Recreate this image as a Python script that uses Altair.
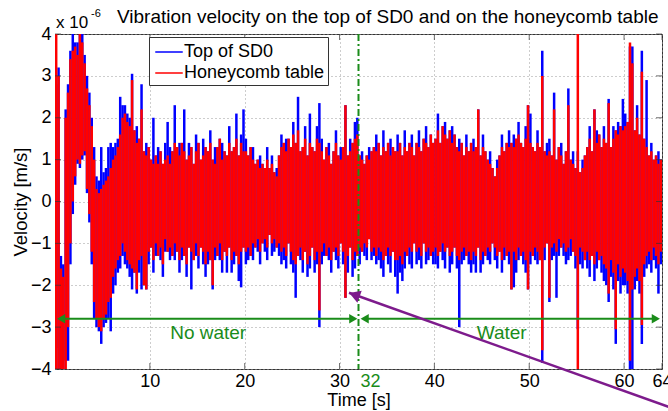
import altair as alt
import pandas as pd

STEP = 0.25  # seconds per sample bin

red_hi = [
 4.0, 3.0, -1.6, -1.8, 2.0, 2.6, 3.4, 3.6, 3.7, 3.5, 4.0, 3.8, 3.3, 2.7, 2.3, 1.8,
 1.0, 0.3, 0.2, 0.3, 0.4, 0.5, 0.6, 0.8, 1.0, 1.1, 1.3, 1.6, 2.0, 2.1, 1.9, 1.8,
 2.9, 1.7, 1.4, 1.5, 2.2, 1.2, 1.1, 1.3, 1.0, 0.9, 1.1, 0.9, 1.2, 0.9, 1.0, 1.1,
 0.9, 1.2, 1.4, 1.3, 1.1, 1.4, 1.2, 1.0, 1.1, 1.3, 0.9, 1.2, 1.4, 1.0, 1.1, 1.3,
 1.2, 1.4, 1.0, 0.9, 1.3, 1.5, 1.0, 1.2, 1.1, 1.4, 1.2, 1.3, 1.5, 1.1, 1.4, 1.2,
 1.2, 1.1, 1.3, 1.0, 0.9, 1.0, 0.8, 0.9, 0.8, 1.0, 0.8, 0.9, 0.7, 0.6, 1.1, 1.3,
 1.4, 1.2, 1.5, 1.3, 1.6, 1.4, 1.7, 1.2, 1.3, 1.5, 1.1, 1.4, 1.3, 1.2, 1.5, 1.4,
 1.2, 1.0, 1.3, 1.1, 0.9, 1.2, 1.4, 1.1, 1.0, 1.3, 2.3, 1.1, 1.2, 1.4, 1.5, 1.6,
 1.1, 1.0, 0.9, 1.1, 1.0, 1.2, 1.3, 1.2, 1.4, 1.1, 1.3, 1.2, 1.4, 1.1, 1.3, 1.2,
 1.2, 1.4, 1.1, 1.3, 1.2, 1.4, 1.3, 1.1, 1.4, 1.3, 1.2, 1.5, 1.4, 1.3, 1.6, 1.4,
 1.5, 1.7, 1.4, 1.8, 1.6, 1.5, 1.7, 1.4, 1.6, 1.3, 1.2, 1.4, 1.1, 1.3, 1.2, 1.4,
 1.2, 1.3, 2.2, 1.1, 1.3, 1.2, 1.0, 0.9, 0.8, 0.6, 0.8, 1.1, 1.3, 1.2, 1.4, 1.3,
 1.4, 1.3, 1.5, 1.6, 1.4, 1.3, 1.5, 2.3, 1.4, 1.3, 1.2, 1.4, 1.3, 3.0, 1.2, 1.1,
 1.2, 1.1, 2.2, 1.0, 1.3, 1.1, 0.9, 1.2, 2.3, 1.0, 0.9, 0.8, 4.0, 0.7, 0.8, 1.1,
 1.3, 1.5, 1.2, 2.2, 1.4, 1.6, 1.3, 1.5, 1.4, 2.35, 1.3, 1.5, 1.7, 1.6, 1.8, 1.7,
 1.8, 1.9, 3.8, 3.3, 1.7, 2.0, 1.6, 3.1, 1.5, 1.3, 1.1, 1.2, 1.0, 1.1, 0.9, 1.0,
]

red_lo = [
 -4.0, -4.0, -4.0, -4.0, -4.0, -3.0, -1.0, 0.0, 0.6, 1.0, 0.9, 1.1, 1.2, 0.3, -0.3, -1.2,
 -2.4, -2.8, -3.0, -3.1, -2.8, -2.7, -2.4, -2.3, -1.8, -1.6, -1.4, -1.3, -1.0, -1.2, -1.4, -1.5,
 -1.6, -1.7, -2.1, -1.4, -1.3, -2.0, -2.1, -1.2, -1.1, -1.4, -1.0, -1.3, -1.1, -1.5, -0.9, -1.2,
 -1.1, -1.3, -1.0, -1.2, -1.4, -1.1, -1.3, -1.5, -1.1, -1.2, -1.4, -1.0, -1.3, -1.1, -1.2, -1.5,
 -1.2, -1.4, -2.0, -1.1, -1.3, -1.0, -1.4, -1.2, -1.3, -1.1, -1.4, -1.2, -1.3, -1.5, -1.2, -1.1,
 -1.2, -1.1, -1.3, -1.0, -1.1, -0.9, -1.2, -1.0, -0.9, -1.1, -0.8, -1.0, -0.9, -1.1, -1.0, -1.2,
 -1.1, -1.3, -1.0, -1.2, -1.4, -1.5, -1.3, -1.1, -1.4, -1.2, -1.5, -1.3, -1.1, -1.4, -1.2, -2.6,
 -1.2, -1.0, -1.3, -1.1, -1.4, -1.2, -1.1, -1.3, -1.0, -1.2, -2.3, -1.3, -1.1, -1.4, -1.2, -1.3,
 -1.1, -1.2, -1.0, -1.1, -0.9, -1.2, -1.1, -1.3, -1.1, -1.2, -1.4, -1.3, -1.1, -1.3, -1.2, -1.4,
 -1.4, -1.3, -1.5, -1.2, -1.3, -1.1, -1.2, -1.0, -1.2, -1.1, -1.3, -1.0, -1.2, -1.1, -1.3, -1.2,
 -1.1, -1.3, -1.2, -1.0, -1.2, -1.1, -1.3, -1.2, -1.1, -1.3, -1.4, -1.2, -1.1, -1.3, -1.2, -1.4,
 -1.2, -1.3, -1.1, -1.4, -1.2, -1.3, -1.1, -1.2, -1.0, -1.1, -1.3, -1.2, -1.4, -1.1, -1.3, -1.2,
 -2.1, -1.2, -1.4, -1.1, -1.3, -1.2, -1.4, -2.1, -1.2, -1.3, -1.1, -1.2, -1.4, -3.55, -1.1, -1.0,
 -2.3, -1.1, -1.0, -1.2, -0.9, -1.1, -1.0, -1.2, -1.1, -0.9, -1.2, -1.3, -4.0, -1.1, -1.2, -1.4,
 -1.2, -1.4, -1.3, -1.5, -1.2, -1.4, -1.3, -1.5, -1.6, -2.2, -1.4, -1.7, -3.05, -1.5, -1.8, -1.6,
 -1.7, -1.9, -3.8, -2.1, -1.8, -1.6, -1.9, -2.95, -1.5, -1.3, -1.2, -1.4, -1.1, -1.3, -1.5, -1.2,
]

blue_hi = [
 2.8, 3.2, -1.3, -1.5, 2.2, 2.8, 3.6, 4.0, 3.8, 3.8, 4.0, 4.0, 3.5, 3.0, 2.6, 2.0,
 1.3, 0.6, 0.5, 1.3, 0.7, 0.8, 1.3, 1.4, 1.3, 1.4, 1.5, 2.5, 2.3, 2.3, 2.1, 2.0,
 3.05, 1.7, 1.8, 1.5, 2.8, 1.2, 1.4, 1.3, 1.0, 2.0, 1.1, 1.3, 1.2, 0.9, 1.4, 1.9,
 1.3, 1.2, 2.3, 1.3, 1.4, 1.4, 2.2, 1.0, 1.4, 1.3, 0.9, 1.6, 1.4, 1.0, 1.5, 1.3,
 1.2, 1.7, 1.0, 1.3, 1.3, 1.5, 1.4, 1.2, 1.1, 1.8, 1.2, 1.3, 2.1, 1.1, 1.6, 2.2,
 1.5, 1.1, 1.3, 1.3, 0.9, 1.0, 1.1, 0.9, 0.8, 1.3, 0.8, 1.1, 0.7, 0.8, 1.1, 1.6,
 1.4, 1.5, 1.5, 1.3, 1.9, 1.4, 2.5, 1.2, 1.3, 1.8, 1.1, 2.1, 1.3, 1.2, 1.8, 2.35,
 1.5, 1.0, 1.3, 1.4, 0.9, 1.2, 1.7, 1.1, 1.3, 1.3, 2.3, 1.1, 1.5, 1.4, 1.9, 2.0,
 1.1, 1.2, 0.9, 1.1, 1.3, 1.2, 1.3, 1.6, 1.4, 1.1, 1.7, 1.2, 1.4, 1.5, 1.3, 1.2,
 1.6, 1.4, 1.1, 1.7, 1.2, 1.4, 1.6, 1.1, 1.4, 1.7, 1.2, 1.5, 1.8, 1.3, 1.6, 1.4,
 1.5, 2.1, 1.4, 1.8, 1.9, 1.5, 1.7, 1.8, 1.6, 1.3, 1.5, 1.4, 1.1, 1.6, 1.2, 1.4,
 1.5, 1.3, 2.2, 1.1, 1.6, 1.2, 1.0, 1.2, 0.8, 0.6, 1.0, 1.1, 1.6, 1.2, 1.4, 1.7,
 1.4, 1.6, 1.5, 1.9, 1.4, 1.3, 1.8, 2.3, 2.1, 1.3, 1.2, 1.7, 1.3, 3.6, 1.2, 1.4,
 1.5, 1.1, 2.6, 1.0, 1.3, 1.4, 0.9, 1.2, 2.7, 1.0, 1.2, 0.8, 1.2, 0.7, 1.0, 1.1,
 1.3, 1.8, 1.2, 2.2, 1.7, 1.6, 1.3, 1.8, 1.4, 2.45, 1.3, 1.8, 1.7, 1.9, 1.8, 2.45,
 2.1, 1.9, 3.7, 3.7, 1.7, 2.3, 1.6, 3.6, 1.5, 2.9, 1.1, 1.4, 1.0, 1.1, 1.2, 1.0,
]

blue_lo = [
 -3.5, -4.0, -4.0, -4.0, -3.8, -3.8, -1.5, -0.3, 0.4, 0.9, 0.8, 1.0, 1.1, 0.2, -0.5, -1.5,
 -2.8, -3.0, -3.1, -3.4, -3.0, -2.9, -2.8, -3.1, -2.2, -2.0, -1.7, -1.6, -1.3, -1.5, -1.6, -1.8,
 -2.1, -1.7, -2.2, -1.7, -2.1, -2.0, -2.1, -1.5, -1.1, -1.7, -1.3, -1.3, -1.4, -1.8, -1.2, -1.2,
 -1.4, -1.3, -1.4, -1.2, -1.7, -1.4, -1.3, -1.8, -1.1, -2.1, -1.4, -1.3, -1.6, -1.1, -1.5, -1.8,
 -1.5, -1.4, -2.1, -1.4, -1.3, -1.4, -1.7, -1.2, -1.7, -1.1, -1.7, -1.5, -1.3, -1.9, -2.05, -1.1,
 -1.5, -1.4, -1.3, -1.4, -1.1, -1.2, -1.5, -1.0, -1.2, -1.4, -0.8, -1.3, -1.2, -1.1, -1.3, -1.5,
 -1.4, -1.6, -1.0, -1.5, -1.7, -2.3, -1.3, -1.4, -1.7, -1.2, -1.8, -1.6, -1.1, -1.7, -1.5, -3.0,
 -1.5, -1.3, -1.3, -1.4, -1.7, -1.2, -1.4, -1.6, -1.0, -1.5, -2.3, -1.7, -1.1, -1.8, -1.6, -1.3,
 -1.5, -1.2, -1.3, -1.4, -0.9, -1.4, -1.3, -1.5, -1.4, -1.6, -1.8, -1.3, -1.5, -1.7, -1.2, -1.8,
 -2.2, -1.7, -1.9, -1.6, -1.3, -1.5, -1.6, -1.0, -1.5, -1.4, -1.6, -1.0, -1.5, -1.4, -1.3, -1.5,
 -1.5, -1.6, -1.2, -1.4, -1.6, -1.1, -1.7, -1.5, -1.1, -1.6, -3.0, -1.5, -1.4, -1.3, -1.5, -1.7,
 -1.5, -1.7, -1.1, -1.7, -1.5, -1.3, -1.4, -1.5, -1.0, -1.4, -1.6, -1.2, -1.7, -1.4, -1.3, -1.5,
 -2.1, -2.05, -1.7, -1.4, -1.3, -1.5, -1.7, -2.1, -1.5, -1.3, -1.4, -1.5, -1.4, -3.85, -1.4, -1.0,
 -2.4, -1.4, -1.3, -2.3, -1.3, -1.1, -1.3, -1.5, -1.4, -1.3, -1.2, -1.6, -3.05, -1.5, -1.6, -1.4,
 -1.6, -1.8, -1.3, -1.9, -1.6, -1.4, -1.7, -1.9, -2.0, -2.4, -1.8, -2.1, -3.4, -1.9, -2.2, -2.0,
 -2.0, -2.2, -4.0, -4.0, -2.1, -1.9, -2.2, -3.4, -1.8, -1.6, -1.5, -1.7, -1.4, -1.6, -2.2, -1.5,
]

series_names = ["Top of SD0", "Honeycomb table"]
series_colors = ["#0000ff", "#ff0000"]

x_ticks = [10, 20, 30, 40, 50, 60, 64]
y_ticks = [-4, -3, -2, -1, 0, 1, 2, 3, 4]
x_range = [0, 64]
y_range = [-4, 4]

split_time = [32]
arrow_y = -2.8
arrow_segments = {"x1": [0.6, 32.6], "x2": [31.5, 63.4]}
arrow_heads = {"x": [0.65, 31.45, 32.65, 63.35],
               "shape": ["triangle-left", "triangle-right", "triangle-left", "triangle-right"]}
region_labels = {"x": [16.15, 47.1], "y": [-3.13, -3.13], "text": ["No water", "Water"]}
purple_line = {"x": [66.0, 31.0], "y": [-5.01, -2.18]}
purple_head = {"x": [31.75], "y": [-2.245]}

t = [STEP / 2 + STEP * i for i in range(len(red_hi))]
df_blue = pd.DataFrame({"t": t, "lo": blue_lo, "hi": blue_hi, "series": series_names[0]})
df_red = pd.DataFrame({"t": t, "lo": red_lo, "hi": red_hi, "series": series_names[1]})

FONT = "Liberation Sans"
GREEN = "#1a8c1a"
PURPLE = "#7d1b8c"
AXC = "#333333"

xscale = alt.Scale(domain=x_range, nice=False, zero=False)
yscale = alt.Scale(domain=y_range, nice=False, zero=False)

xaxis = alt.Axis(values=x_ticks, title="Time [s]", labelFlush=False, labelOverlap=False,
                 ticks=False, domain=False, labelPadding=3, titlePadding=1,
                 titleFontSize=18)
yaxis = alt.Axis(values=y_ticks, title="Velocity [m/s]", ticks=False, domain=False,
                 labelPadding=4, titlePadding=0)

color = alt.Color("series:N",
                  scale=alt.Scale(domain=series_names, range=series_colors),
                  legend=alt.Legend(orient="none", legendX=94, legendY=3, title=None,
                                    fillColor="white", strokeColor=AXC, padding=3,
                                    symbolType="M-1.25,0H1.25", symbolSize=484,
                                    symbolStrokeWidth=1.5, symbolOffset=5,
                                    labelFontSize=18, labelFont=FONT, labelColor="black",
                                    labelOffset=3, rowPadding=0))

blue = alt.Chart(df_blue).mark_rule(strokeWidth=2.5, clip=True).encode(
    x=alt.X("t:Q", scale=xscale, axis=xaxis),
    y=alt.Y("lo:Q", scale=yscale, axis=yaxis),
    y2="hi:Q",
    color=color,
)
red = alt.Chart(df_red).mark_rule(strokeWidth=2.5, clip=True).encode(
    x="t:Q", y="lo:Q", y2="hi:Q", color=color,
)

# MATLAB-style inward ticks
xt = pd.DataFrame({"x": x_ticks})
yt = pd.DataFrame({"y": y_ticks})
tick_bottom = alt.Chart(xt).mark_tick(orient="vertical", size=6, thickness=1, color=AXC,
                                      yOffset=-3).encode(x="x:Q", y=alt.datum(y_range[0]))
tick_top = alt.Chart(xt).mark_tick(orient="vertical", size=6, thickness=1, color=AXC,
                                   yOffset=3).encode(x="x:Q", y=alt.datum(y_range[1]))
tick_left = alt.Chart(yt).mark_tick(orient="horizontal", size=6, thickness=1, color=AXC,
                                    xOffset=3).encode(y="y:Q", x=alt.datum(x_range[0]))
tick_right = alt.Chart(yt).mark_tick(orient="horizontal", size=6, thickness=1, color=AXC,
                                     xOffset=-3).encode(y="y:Q", x=alt.datum(x_range[1]))

vline = alt.Chart(pd.DataFrame({"x": split_time})).mark_rule(
    color=GREEN, strokeWidth=2, strokeDash=[7, 3, 2, 3]).encode(x="x:Q")

seg = alt.Chart(pd.DataFrame({**arrow_segments, "y": [arrow_y] * 2})).mark_rule(
    color=GREEN, strokeWidth=2).encode(x="x1:Q", x2="x2:Q", y="y:Q")
heads = alt.Chart(pd.DataFrame({**arrow_heads, "y": [arrow_y] * 4})).mark_point(
    color=GREEN, filled=True, opacity=1, size=90).encode(
    x="x:Q", y="y:Q", shape=alt.Shape("shape:N", scale=None))
labels = alt.Chart(pd.DataFrame(region_labels)).mark_text(
    color=GREEN, fontSize=19, font=FONT).encode(x="x:Q", y="y:Q", text="text:N")

lab32 = alt.Chart(pd.DataFrame({"x": [33.26], "y": [-4], "text": ["32"]})).mark_text(
    color=GREEN, fontSize=18, font=FONT, dy=13, baseline="middle", clip=False).encode(
    x="x:Q", y="y:Q", text="text:N")

exp_base = alt.Chart(pd.DataFrame({"x": [0], "y": [4], "text": ["x 10"]})).mark_text(
    fontSize=17, font=FONT, align="left", baseline="alphabetic", dx=1, dy=-6, clip=False,
    color="black").encode(x="x:Q", y="y:Q", text="text:N")
exp_pow = alt.Chart(pd.DataFrame({"x": [0], "y": [4], "text": ["-6"]})).mark_text(
    fontSize=11, font=FONT, align="left", baseline="alphabetic", dx=36, dy=-17, clip=False,
    color="black").encode(x="x:Q", y="y:Q", text="text:N")

pline = alt.Chart(pd.DataFrame(purple_line)).mark_line(
    color=PURPLE, strokeWidth=2.5, clip=False).encode(x="x:Q", y="y:Q")
phead = alt.Chart(pd.DataFrame(purple_head)).mark_point(
    color=PURPLE, filled=True, opacity=1, shape="triangle", size=160, angle=290,
    clip=False).encode(x="x:Q", y="y:Q")

chart = alt.layer(blue, red, tick_bottom, tick_top, tick_left, tick_right,
                  vline, seg, heads, labels, lab32, exp_base, exp_pow,
                  pline, phead).properties(
    width=607, height=335,
    padding={"left": 55, "top": 34, "right": 6, "bottom": 42},
    autosize=alt.AutoSizeParams(type="none"),
    title=alt.TitleParams(text="Vibration velocity on the top of SD0 and on the honeycomb table",
                          anchor="start", frame="group", dx=62, dy=25, fontSize=19, font=FONT,
                          fontWeight="normal", color="black", offset=6),
    background="white",
).configure_view(
    stroke=AXC, strokeWidth=1
).configure_axis(
    labelFont=FONT, titleFont=FONT, labelFontSize=18, titleFontSize=18.5,
    labelColor="black", titleColor="black", titleFontWeight="normal",
    grid=True, gridColor="#9a9a9a", gridDash=[1, 3], gridWidth=1,
)

chart.save("out.html", embed_options={"renderer": "svg", "actions": False})
